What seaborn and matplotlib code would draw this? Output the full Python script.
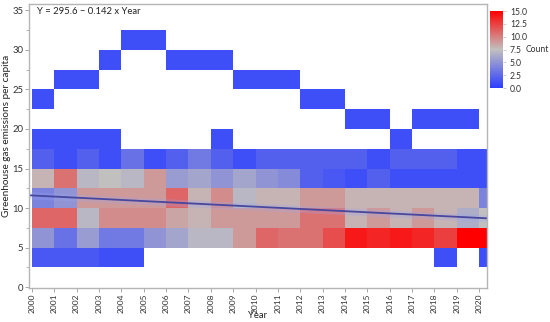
import numpy as np
import pandas as pd
import matplotlib
matplotlib.use("Agg")
import matplotlib.pyplot as plt
from matplotlib.colors import LinearSegmentedColormap
import seaborn as sns

# ---- data ----
years = list(range(2000, 2021))
bin_lows = [0, 2.5, 5, 7.5, 10, 12.5, 15, 17.5, 20, 22.5, 25, 27.5, 30]
row_0_2_5    = [0]*21
row_2_5_5    = [1.5, 1.5, 1.5, 1, 1, 0, 0, 0, 0, 0, 0, 0, 0, 0, 0, 0, 0, 0, 1, 0, 1]
row_5_7_5    = [5, 3, 5.5, 3.5, 3.5, 5, 6, 7, 7, 9, 11, 10.5, 10.5, 12, 14, 13.5, 14, 13.5, 12.5, 15, 15]
row_7_5_10   = [11, 11, 7, 9.5, 9.5, 9.5, 8.5, 8, 9, 9, 9, 9, 10.5, 10.5, 8, 9, 8, 9, 8, 6.5, 7.5]
row_10_12_5  = [4, 5, 9, 9, 9, 9, 11, 8, 9.5, 7, 8, 8, 9, 9, 8, 8, 8, 8, 8, 8, 4]
row_12_5_15  = [8, 10.5, 7, 7.5, 7, 9, 5.5, 6, 5, 6, 5, 4.5, 2, 1.5, 1, 2, 1, 1, 1, 1, 1]
row_15_17_5  = [2, 1, 2, 1, 3, 1, 2, 3.5, 2, 1, 2, 2, 2, 2, 2, 1, 2, 2, 2, 1, 1]
row_17_5_20  = [1, 1, 1, 1, 0, 0, 0, 0, 1, 0, 0, 0, 0, 0, 0, 0, 1, 0, 0, 0, 0]
row_20_22_5  = [0, 0, 0, 0, 0, 0, 0, 0, 0, 0, 0, 0, 0, 0, 1, 1, 0, 1, 1, 1, 0]
row_22_5_25  = [1, 0, 0, 0, 0, 0, 0, 0, 0, 0, 0, 0, 1, 1, 0, 0, 0, 0, 0, 0, 0]
row_25_27_5  = [0, 1, 1, 0, 0, 0, 0, 0, 0, 1, 1, 1, 0, 0, 0, 0, 0, 0, 0, 0, 0]
row_27_5_30  = [0, 0, 0, 1, 0, 0, 1, 1, 1, 0, 0, 0, 0, 0, 0, 0, 0, 0, 0, 0, 0]
row_30_32_5  = [0, 0, 0, 0, 1, 1, 0, 0, 0, 0, 0, 0, 0, 0, 0, 0, 0, 0, 0, 0, 0]
intercept = 295.6
slope = -0.142

rows = [row_0_2_5, row_2_5_5, row_5_7_5, row_7_5_10, row_10_12_5, row_12_5_15,
        row_15_17_5, row_17_5_20, row_20_22_5, row_22_5_25, row_25_27_5,
        row_27_5_30, row_30_32_5]

recs = []
for lo, r in zip(bin_lows, rows):
    for y, c in zip(years, r):
        recs.append({"Year": y + 0.5, "value": lo + 1.25, "count": c})
df = pd.DataFrame(recs)

FONT = ["Lato", "DejaVu Sans"]
cmap = LinearSegmentedColormap.from_list(
    "bgr", [(0.0, (0.17, 0.24, 1.0)), (0.5, (0.76, 0.75, 0.75)), (1.0, (1.0, 0.0, 0.0))])

fig = plt.figure(figsize=(5.5, 3.22), dpi=100)
ax = fig.add_axes([29/550, 1-288/322, (486.7-29)/550, (288-4)/322])
cax = fig.add_axes([490/550, 1-88/322, 13/550, 77/322])

x_edges = np.arange(2000, 2022)
y_edges = np.arange(0, 35.1, 2.5)
sns.histplot(data=df, x="Year", y="value", weights="count", bins=[x_edges, y_edges],
             cmap=cmap, vmin=0, vmax=15, cbar=True, cbar_ax=cax, ax=ax, thresh=0)

# regression line
xl = np.array([1999.87, 2020.34])
yl = intercept + slope * xl
ax.fill_between(xl, yl - 0.45, yl + 0.45, color=(0.6, 0.65, 0.95), alpha=0.25, lw=0)
sns.lineplot(x=xl, y=yl, ax=ax, color=(0.28, 0.28, 0.62), lw=1.3)

ax.set_xlim(1999.87, 2020.34)
ax.set_ylim(-0.1, 35.8)
ax.set_xticks(years)
ax.set_xticklabels([str(y) for y in years], rotation=90, fontsize=6.0, family=FONT)
ax.set_yticks([0, 5, 10, 15, 20, 25, 30, 35])
ax.set_yticklabels(["0", "5", "10", "15", "20", "25", "30", "35"], fontsize=6.8, family=FONT)
ax.set_yticks(np.arange(2.5, 35, 5), minor=True)
ax.tick_params(axis="both", which="major", length=3, width=0.6, color="#999999", pad=1.2, labelcolor="#333333")
ax.tick_params(axis="y", which="minor", length=2, width=0.5, color="#999999")
ax.set_xlabel("Year", fontsize=6.8, family=FONT, color="#222222")
ax.set_ylabel("Greenhouse gas emissions per capita", fontsize=7.2, family=FONT, color="#222222")
ax.xaxis.set_label_coords((258 - 29) / 457.7, (288 - 311.5) / 284)
ax.yaxis.set_label_coords((11 - 29) / 457.7, (288 - 136) / 284)
for s in ax.spines.values():
    s.set_color("#b5b5b5")
    s.set_linewidth(1.0)
ax.grid(False)
ax.text(0.018, 0.988, "Y = 295.6 − 0.142 x Year", transform=ax.transAxes, ha="left", va="top",
        fontsize=6.8, family=FONT, color="#222222")

cax.set_yticks([0, 2.5, 5, 7.5, 10, 12.5, 15])
cax.set_yticklabels(["0.0", "2.5", "5.0", "7.5", "10.0", "12.5", "15.0"], fontsize=6.2, family=FONT)
cax.tick_params(axis="y", length=2, width=0.5, color="#bbbbbb", pad=3, labelcolor="#333333")
for s in cax.spines.values():
    s.set_visible(False)
fig.text(526/550, 1-49/322, "Count", fontsize=6.2, family=FONT, va="center", ha="left", color="#333333")

fig.savefig("out.png", dpi=100)
